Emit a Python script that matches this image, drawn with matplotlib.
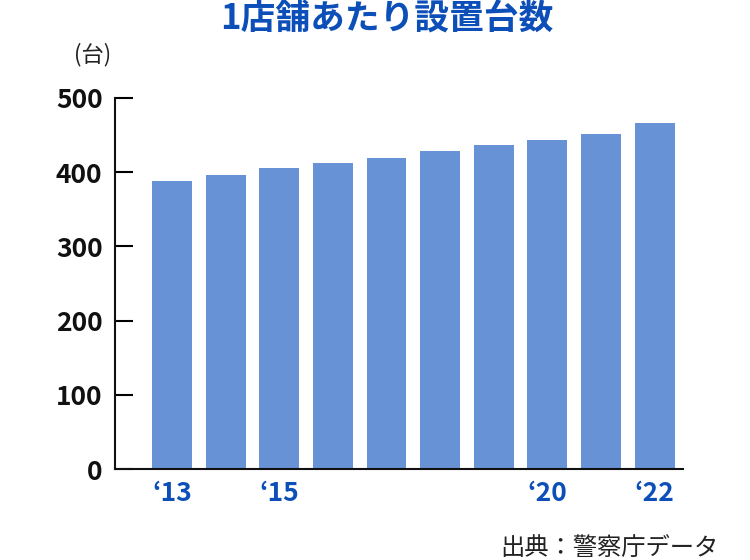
import matplotlib.pyplot as plt

plt.rcParams['font.family'] = ['Noto Sans CJK JP', 'DejaVu Sans']

years = ['2013', '2014', '2015', '2016', '2017', '2018', '2019', '2020', '2021', '2022']
per_store = [388, 396, 405, 412, 419, 428, 436, 444, 452, 466]
tick_idx = [0, 2, 7, 9]
tick_labels = ['\u201813', '\u201815', '\u201820', '\u201822']
y_ticks = [0, 100, 200, 300, 400, 500]

bar_color = '#6792d6'
blue = '#0d4fb8'

fig = plt.figure(figsize=(7.5, 5.6), dpi=100)
ax = fig.add_axes([0.1533, 0.1625, 0.7574, 0.6625])

x = range(len(years))
ax.bar(x, per_store, width=0.745, color=bar_color, zorder=2)

ax.set_xlim(-1.063, 9.53)
ax.set_ylim(0, 500)

ax.set_yticks(y_ticks)
ax.set_yticklabels([str(v) for v in y_ticks], fontsize=19, fontweight='bold',
                   color='#111111')
ax.tick_params(axis='y', direction='in', length=13, width=1.5, pad=9)

ax.set_xticks(tick_idx)
ax.set_xticklabels(tick_labels, fontsize=19, fontweight='bold', color=blue)
ax.tick_params(axis='x', length=0, pad=8)

for s in ['top', 'right']:
    ax.spines[s].set_visible(False)
for s in ['left', 'bottom']:
    ax.spines[s].set_linewidth(1.5)
    ax.spines[s].set_color('#111111')

fig.text(0.516, 0.966, '1店舗あたり設置台数', ha='center', va='center',
         fontsize=25, fontweight='bold', color=blue)
fig.text(0.123, 0.902, '(台)', ha='center', va='center', fontsize=16, color='#222222')
fig.text(0.958, 0.021, '出典：警察庁データ', ha='right', va='center',
         fontsize=17.5, color='#222222')

fig.savefig('out.png', dpi=100)
